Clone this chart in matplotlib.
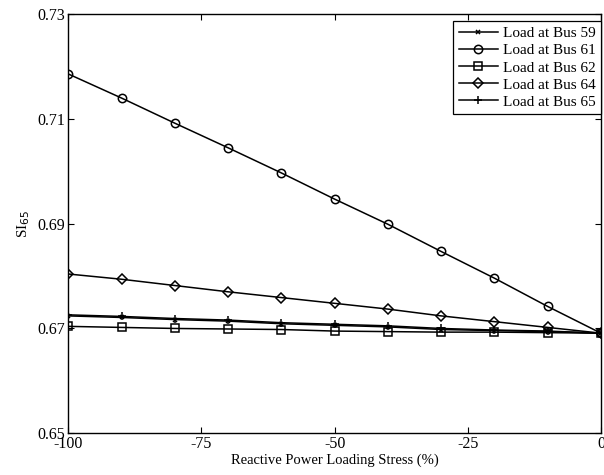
import matplotlib
matplotlib.use("Agg")
import matplotlib.pyplot as plt

# reactive power loading stress (%)
stress = [-100, -90, -80, -70, -60, -50, -40, -30, -20, -10, 0]

si_bus59 = [0.6724, 0.6721, 0.6717, 0.6714, 0.6709, 0.6706, 0.6703, 0.6698, 0.6696, 0.6694, 0.6691]
si_bus61 = [0.7186, 0.7140, 0.7092, 0.7045, 0.6997, 0.6947, 0.6899, 0.6847, 0.6796, 0.6742, 0.6691]
si_bus62 = [0.6704, 0.6702, 0.6700, 0.6699, 0.6698, 0.6695, 0.6694, 0.6693, 0.6693, 0.6692, 0.6691]
si_bus64 = [0.6804, 0.6794, 0.6782, 0.6770, 0.6759, 0.6748, 0.6737, 0.6724, 0.6713, 0.6702, 0.6691]
si_bus65 = [0.6726, 0.6723, 0.6719, 0.6716, 0.6711, 0.6708, 0.6705, 0.6700, 0.6697, 0.6695, 0.6691]

labels = ["Load at Bus 59", "Load at Bus 61", "Load at Bus 62", "Load at Bus 64", "Load at Bus 65"]
markers = ["x", "o", "s", "D", "+"]
msizes = [3, 6, 5.5, 5, 6]

xticks = [-100, -75, -50, -25, 0]
yticks = [0.65, 0.67, 0.69, 0.71, 0.73]

plt.rcParams["font.family"] = ["Liberation Serif", "DejaVu Serif"]
plt.rcParams["font.size"] = 11

fig = plt.figure(figsize=(6.04, 4.75), dpi=100)
ax = fig.add_axes([0.113, 0.088, 0.882, 0.882])

for ys, lab, m, ms in zip([si_bus59, si_bus61, si_bus62, si_bus64, si_bus65], labels, markers, msizes):
    ax.plot(stress, ys, color="black", lw=1.1, marker=m, ms=ms, mfc="none",
            mec="black", mew=1.1, label=lab)

ax.set_xlim(-100, 0)
ax.set_ylim(0.65, 0.73)
ax.set_xticks(xticks)
ax.set_xticklabels([str(t) for t in xticks])
ax.set_yticks(yticks)
ax.set_yticklabels([f"{t:.2f}" for t in yticks])
ax.tick_params(direction="in", top=True, right=True, length=4, width=0.8, pad=2, labelsize=11.5)
for s in ax.spines.values():
    s.set_linewidth(1.0)

ax.set_xlabel("Reactive Power Loading Stress (%)", fontsize=10.5, labelpad=1)
ax.set_ylabel("SI$_{65}$", fontsize=11, labelpad=4)

leg = ax.legend(loc="upper right", bbox_to_anchor=(1.0, 0.983), fancybox=False,
                framealpha=1, edgecolor="black", fontsize=11, handlelength=2.6,
                labelspacing=0.22, borderpad=0.35, handletextpad=0.3, borderaxespad=0.0)
leg.get_frame().set_linewidth(0.9)

fig.savefig("out.png", dpi=100)
